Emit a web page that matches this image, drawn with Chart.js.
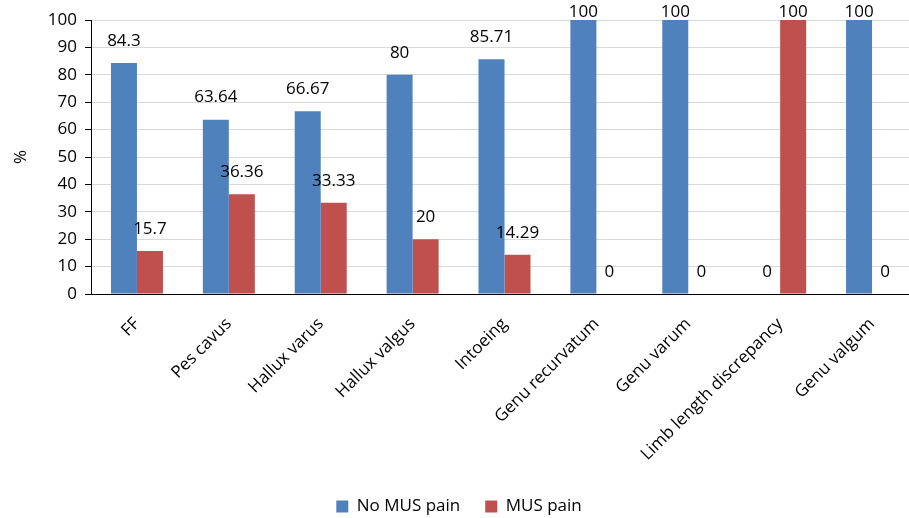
<!DOCTYPE html>
<html>
<head>
<meta charset="utf-8">
<script src="https://cdn.jsdelivr.net/npm/chart.js@4/dist/chart.umd.min.js"></script>
<style>
  html, body { margin: 0; padding: 0; overflow: hidden; background: #fff; }
  #wrap { width: 920px; height: 518px; position: relative; }
</style>
</head>
<body>
<div id="wrap"><canvas id="chart"></canvas></div>
<script>
// Foot and lower-limb findings, share of children with / without musculoskeletal pain
const categories = ['FF', 'Pes cavus', 'Hallux varus', 'Hallux valgus', 'Intoeing',
  'Genu recurvatum', 'Genu varum', 'Limb length discrepancy', 'Genu valgum'];
const noMusPain = [84.3, 63.64, 66.67, 80, 85.71, 100, 100, 0, 100];
const musPain = [15.7, 36.36, 33.33, 20, 14.29, 0, 0, 100, 0];
const seriesNames = ['No MUS pain', 'MUS pain'];
const yMin = 0, yMax = 100, yStep = 10;

const FONT = "'Open Sans', 'Liberation Sans', sans-serif";

// Writes each bar's value just above it (kept inside the canvas for full-height bars)
const valueLabels = {
  id: 'valueLabels',
  afterDatasetsDraw(chart) {
    const ctx = chart.ctx;
    ctx.save();
    ctx.font = '17px ' + FONT;
    ctx.fillStyle = '#000';
    ctx.textAlign = 'center';
    ctx.textBaseline = 'middle';
    chart.data.datasets.forEach((ds, i) => {
      chart.getDatasetMeta(i).data.forEach((bar, j) => {
        ctx.fillText(String(ds.data[j]), bar.x, Math.max(bar.y - 22, 12));
      });
    });
    ctx.restore();
  }
};

new Chart(document.getElementById('chart'), {
  type: 'bar',
  data: {
    labels: categories,
    datasets: [
      { label: seriesNames[0], data: noMusPain, backgroundColor: '#4F81BD' },
      { label: seriesNames[1], data: musPain, backgroundColor: '#C0504D' }
    ]
  },
  options: {
    responsive: true,
    maintainAspectRatio: false,
    animation: false,
    layout: { padding: { top: 20, right: 2, left: 0, bottom: -7 } },
    datasets: { bar: { categoryPercentage: 0.566, barPercentage: 1.0 } },
    plugins: {
      legend: {
        position: 'bottom',
        labels: {
          boxWidth: 12, boxHeight: 12, padding: 25,
          color: '#000',
          font: { family: FONT, size: 17 }
        }
      },
      tooltip: { enabled: false }
    },
    scales: {
      x: {
        grid: { display: false, drawTicks: false },
        border: { color: '#000', width: 1 },
        ticks: {
          color: '#000', minRotation: 45, maxRotation: 45, padding: 20,
          font: { family: FONT, size: 17 }
        },
        afterFit(scale) { scale.height = 179; }
      },
      y: {
        min: yMin, max: yMax,
        grid: { color: '#d9d9d9', lineWidth: 1, tickColor: '#000', tickLength: 6 },
        border: { color: '#000', width: 1 },
        ticks: {
          stepSize: yStep, color: '#000', padding: 8,
          font: { family: FONT, size: 17 }
        },
        title: {
          display: true, text: '%', color: '#000', padding: { top: 11, bottom: 0 },
          font: { family: FONT, size: 17 }
        },
        afterFit(scale) { scale.width = 91; }
      }
    }
  },
  plugins: [valueLabels]
});
</script>
</body>
</html>
